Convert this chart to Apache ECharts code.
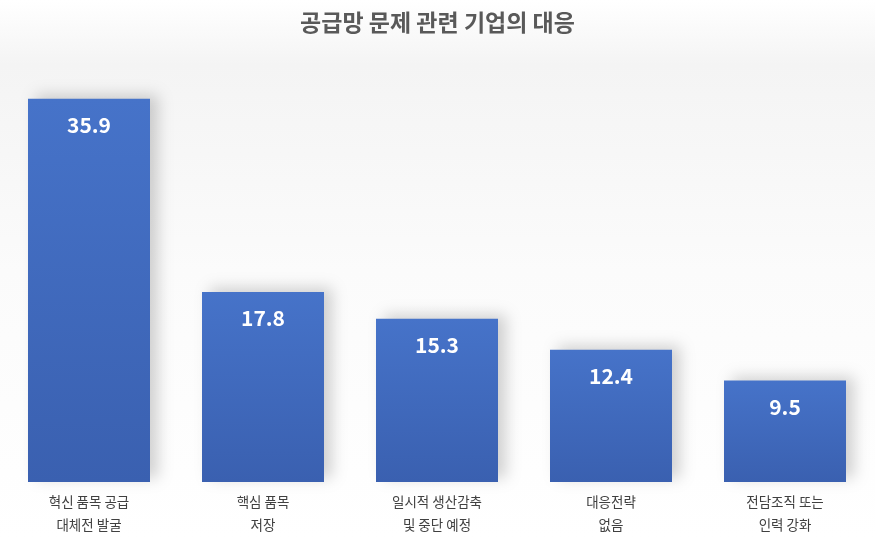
<!DOCTYPE html>
<html><head><meta charset="utf-8">
<script src="https://cdn.jsdelivr.net/npm/echarts@6/dist/echarts.min.js"></script>
<style>html,body{margin:0;padding:0;background:#fff}#c{width:875px;height:540px}</style>
</head><body><div id="c"></div>
<script>
const categories = ['혁신 품목 공급\n대체전 발굴', '핵심 품목\n저장', '일시적 생산감축\n및 중단 예정', '대응전략\n없음', '전담조직 또는\n인력 강화'];
const values = [35.9, 17.8, 15.3, 12.4, 9.5];
const titleText = '공급망 문제 관련 기업의 대응';
const chart = echarts.init(document.getElementById('c'));
chart.setOption({
  backgroundColor: {type:'linear',x:0,y:0,x2:0,y2:1,colorStops:[{offset:0,color:'#ffffff'},{offset:0.12,color:'#f4f4f4'},{offset:0.5,color:'#fbfbfb'},{offset:1,color:'#ffffff'}]},
  title: {text: titleText, left:'center', top:6, textStyle:{fontFamily:'Noto Sans CJK KR', fontSize:23, fontWeight:'bold', color:'#595959'}},
  grid: {left:2, right:3, top:55, bottom:58, containLabel:false},
  xAxis: {type:'category', data:categories, axisLine:{show:false}, axisTick:{show:false},
    axisLabel:{fontFamily:'Noto Sans CJK KR', fontSize:13.5, color:'#404040', lineHeight:23, margin:8}},
  yAxis: {type:'value', min:0, max:40, show:false, splitLine:{show:false}},
  series: [{type:'bar', data:values, barWidth:122,
    itemStyle:{color:{type:'linear',x:0,y:0,x2:0,y2:1,colorStops:[{offset:0,color:'#4673C9'},{offset:1,color:'#3A60B0'}]},
      shadowColor:'rgba(0,0,0,0.18)', shadowBlur:14, shadowOffsetX:8, shadowOffsetY:-4},
    label:{show:true, position:'insideTop', distance:16, color:'#ffffff', fontFamily:'Noto Sans CJK KR', fontSize:21, fontWeight:'bold'}
  }]
});
</script></body></html>
